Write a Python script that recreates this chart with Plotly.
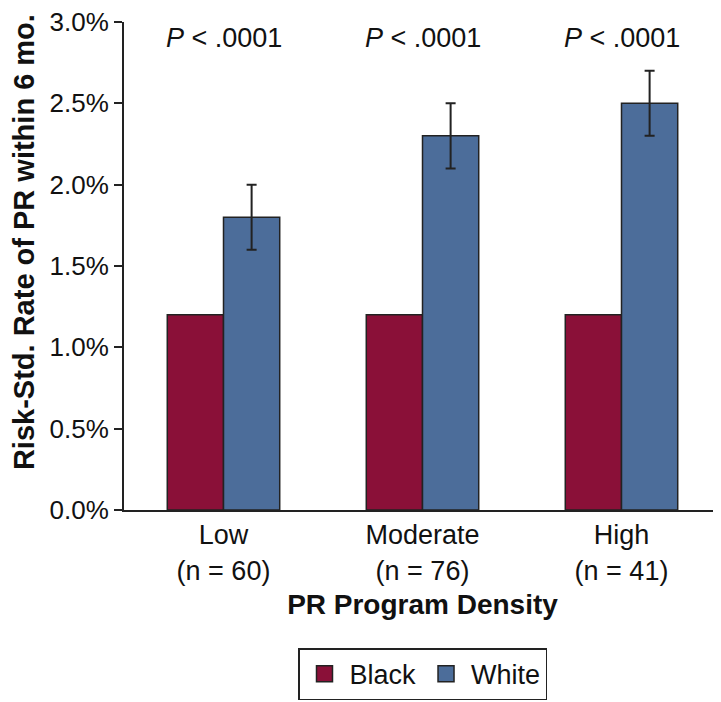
import plotly.graph_objects as go

categories = ["Low<br>(n = 60)", "Moderate<br>(n = 76)", "High<br>(n = 41)"]
black = [1.2, 1.2, 1.2]
white = [1.8, 2.3, 2.5]
white_err = [0.2, 0.2, 0.2]
p_labels = ["<i>P</i> < .0001", "<i>P</i> < .0001", "<i>P</i> < .0001"]

font = "Liberation Sans, Arial, Helvetica, sans-serif"
red = "#8A1038"
blue = "#4C6D9A"
edge = "#222222"

fig = go.Figure()
fig.add_trace(go.Bar(
    x=categories, y=black, name="Black", showlegend=False,
    marker=dict(color=red, line=dict(color=edge, width=1.5)),
))
fig.add_trace(go.Bar(
    x=categories, y=white, name="White", showlegend=False,
    marker=dict(color=blue, line=dict(color=edge, width=1.5)),
    error_y=dict(type="data", array=white_err, color=edge, thickness=2, width=5),
))
# legend entries with bigger square swatches
for name, col in [("Black", red), ("White", blue)]:
    fig.add_trace(go.Scatter(
        x=[None], y=[None], mode="markers", name=name,
        marker=dict(symbol="square", size=16, color=col, line=dict(color=edge, width=1.5)),
    ))

for c, t in zip(categories, p_labels):
    fig.add_annotation(x=c, y=2.902, text=t, showarrow=False,
                       font=dict(size=27, color="#111111"), yanchor="middle")

fig.add_annotation(
    text="<b>Risk-Std. Rate of PR within 6 mo.</b>", textangle=-90,
    xref="paper", yref="paper", x=-0.1985, y=0.55,
    xanchor="left", yanchor="middle", showarrow=False,
    font=dict(size=29, color="#111111"),
)

# page body has an 8px margin, so the figure is 8px smaller on each axis
fig.update_layout(
    width=713, height=694,
    margin=dict(l=116, r=0, t=14, b=192),
    paper_bgcolor="white", plot_bgcolor="white",
    font=dict(family=font, color="#111111", size=27),
    barmode="group", bargap=0.435, bargroupgap=0,
    showlegend=True,
    legend=dict(orientation="h", x=0.5, xanchor="center", y=-0.283, yanchor="top",
                bordercolor=edge, borderwidth=1.5, font=dict(size=27),
                itemwidth=40, traceorder="normal"),
)
fig.update_xaxes(
    showline=True, linecolor=edge, linewidth=2, ticks="", automargin=False,
    title=dict(text="<b>PR Program Density</b>", font=dict(size=28), standoff=10),
    tickfont=dict(size=27),
)
fig.update_yaxes(
    range=[0, 3.0], dtick=0.5, tickformat=".1f", ticksuffix="%",
    showline=True, linecolor=edge, linewidth=2, ticks="outside", ticklen=8,
    tickwidth=2, tickcolor=edge, showgrid=False, zeroline=False, automargin=False,
    ticklabeloverflow="allow", tickfont=dict(size=26),
)

fig.write_html("out.html")
